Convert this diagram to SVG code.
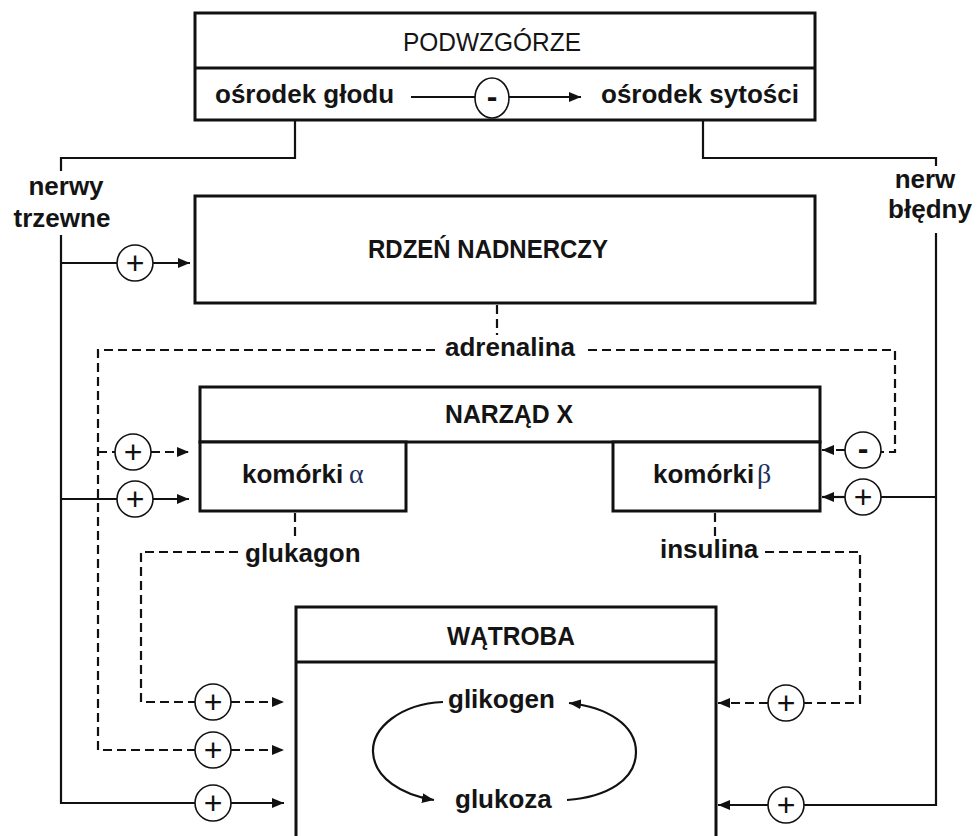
<svg xmlns="http://www.w3.org/2000/svg" width="977" height="836" viewBox="0 0 977 836">
<defs>
<marker id="ah" markerUnits="userSpaceOnUse" markerWidth="12" markerHeight="10" refX="12" refY="5" orient="auto">
<path d="M0,0 L12,5 L0,10 z" fill="#111"/>
</marker>
<style>
.box{fill:#fff;stroke:#111;stroke-width:3}
.ln{fill:none;stroke:#111;stroke-width:2.2}
.dash{stroke-dasharray:9 5}
.circ{fill:#fff;stroke:#111;stroke-width:1.6}
.lbl{font-family:"Liberation Sans",Arial,sans-serif;font-weight:bold;font-size:26px;fill:#141414}
.hdr{font-family:"Liberation Sans",Arial,sans-serif;font-weight:bold;font-size:26px;fill:#141414;text-anchor:middle}
.sym{font-family:"Liberation Sans",Arial,sans-serif;font-size:32px;fill:#111;text-anchor:middle}
.gr{font-family:"Liberation Serif",serif;font-size:28px;font-weight:normal;fill:#22305a}
.mid{text-anchor:middle}
</style>
</defs>
<rect width="977" height="836" fill="#fff"/>

<g id="podwzgorze">
<rect class="box" x="195" y="13" width="620" height="107"/>
<line class="box" x1="195" y1="68" x2="815" y2="68"/>
<text class="hdr" x="492" y="51" font-weight="normal" style="font-weight:normal" textLength="178" lengthAdjust="spacingAndGlyphs">PODWZGÓRZE</text>
<text class="lbl" x="215" y="103">ośrodek głodu</text>
<text class="lbl" x="601" y="103">ośrodek sytości</text>
</g>

<g id="rdzen">
<rect class="box" x="195" y="196" width="620" height="107"/>
<text class="hdr" x="488" y="258" textLength="240" lengthAdjust="spacingAndGlyphs">RDZEŃ NADNERCZY</text>
</g>

<g id="narzad">
<rect class="box" x="200" y="387" width="620" height="55"/>
<text class="hdr" x="509" y="423" textLength="128" lengthAdjust="spacingAndGlyphs">NARZĄD X</text>
</g>

<g id="alfa">
<rect class="box" x="200" y="442" width="206" height="69"/>
<text class="lbl" x="242" y="483">komórki</text>
<text class="gr" x="349" y="483">α</text>
</g>

<g id="beta">
<rect class="box" x="613" y="442" width="207" height="69"/>
<text class="lbl" x="653" y="483">komórki</text>
<text class="gr" x="757" y="483">β</text>
</g>

<g id="watroba">
<path class="box" d="M296,842 V607 H716 V842"/>
<line class="box" x1="296" y1="662" x2="716" y2="662"/>
<text class="hdr" x="511" y="645" textLength="128" lengthAdjust="spacingAndGlyphs">WĄTROBA</text>
<text class="lbl" x="448" y="708">glikogen</text>
<text class="lbl" x="455" y="808">glukoza</text>
<path class="ln" stroke-width="2" d="M443,702 C400,704 372,728 373,752 C374,778 402,795 434,800" marker-end="url(#ah)"/>
<path class="ln" stroke-width="2" d="M567,800 C607,797 636,780 636,752 C636,725 607,707 569,703" marker-end="url(#ah)"/>
</g>

<g id="connectors">
<!-- hypothalamus internal -->
<path class="ln" d="M411,97 H475"/>
<path class="ln" d="M509,97 H581" marker-end="url(#ah)"/>
<!-- nerves left -->
<path class="ln" d="M295,120 V158 H61 V171"/>
<path class="ln" d="M61,235 V803 H195"/>
<path class="ln" d="M61,263 H117"/>
<path class="ln" d="M153,263 H190" marker-end="url(#ah)"/>
<path class="ln" d="M61,499 H117"/>
<path class="ln" d="M153,499 H189" marker-end="url(#ah)"/>
<path class="ln" d="M231,803 H284" marker-end="url(#ah)"/>
<!-- nerves right -->
<path class="ln" d="M703,120 V158 H936 V166"/>
<path class="ln" d="M936,233 V805 H804"/>
<path class="ln" d="M936,497 H881"/>
<path class="ln" d="M845,497 H822" marker-end="url(#ah)"/>
<path class="ln" d="M768,805 H718" marker-end="url(#ah)"/>
<!-- adrenalina -->
<path class="ln dash" d="M497,305 V335"/>
<path class="ln dash" d="M435,350 H98 V750 H195"/>
<path class="ln dash" d="M588,350 H895 V452 H881"/>
<path class="ln dash" d="M98,452 H115"/>
<path class="ln dash" d="M151,452 H189" marker-end="url(#ah)"/>
<path class="ln dash" d="M231,750 H284" marker-end="url(#ah)"/>
<path class="ln dash" d="M845,450 H822" marker-end="url(#ah)"/>
<!-- glukagon -->
<path class="ln dash" d="M295,513 V538"/>
<path class="ln dash" d="M238,552 H141 V702 H195"/>
<path class="ln dash" d="M231,702 H284" marker-end="url(#ah)"/>
<!-- insulina -->
<path class="ln dash" d="M715,513 V538"/>
<path class="ln dash" d="M765,552 H860 V703 H804"/>
<path class="ln dash" d="M768,703 H718" marker-end="url(#ah)"/>

<!-- labels -->
<text class="lbl mid" x="66" y="195">nerwy</text>
<text class="lbl mid" x="62" y="227">trzewne</text>
<text class="lbl mid" x="925" y="188">nerw</text>
<text class="lbl mid" x="930" y="218">błędny</text>
<text class="lbl mid" x="510" y="356">adrenalina</text>
<text class="lbl" x="245" y="562">glukagon</text>
<text class="lbl" x="660" y="558">insulina</text>

<!-- modulators -->
<ellipse class="circ" cx="492" cy="98" rx="17" ry="20"/>
<text class="sym" x="492" y="107" font-weight="bold">-</text>
<circle class="circ" cx="135" cy="263" r="18"/><text class="sym" x="135" y="274">+</text>
<circle class="circ" cx="133" cy="452" r="18"/><text class="sym" x="133" y="463">+</text>
<circle class="circ" cx="135" cy="499" r="18"/><text class="sym" x="135" y="510">+</text>
<circle class="circ" cx="213" cy="702" r="18"/><text class="sym" x="213" y="713">+</text>
<circle class="circ" cx="213" cy="750" r="18"/><text class="sym" x="213" y="761">+</text>
<circle class="circ" cx="213" cy="803" r="18"/><text class="sym" x="213" y="814">+</text>
<circle class="circ" cx="786" cy="703" r="18"/><text class="sym" x="786" y="714">+</text>
<circle class="circ" cx="786" cy="805" r="18"/><text class="sym" x="786" y="816">+</text>
<circle class="circ" cx="863" cy="497" r="18"/><text class="sym" x="863" y="508">+</text>
<circle class="circ" cx="863" cy="450" r="18"/><text class="sym" x="863" y="459" font-weight="bold">-</text>
</g>
</svg>
